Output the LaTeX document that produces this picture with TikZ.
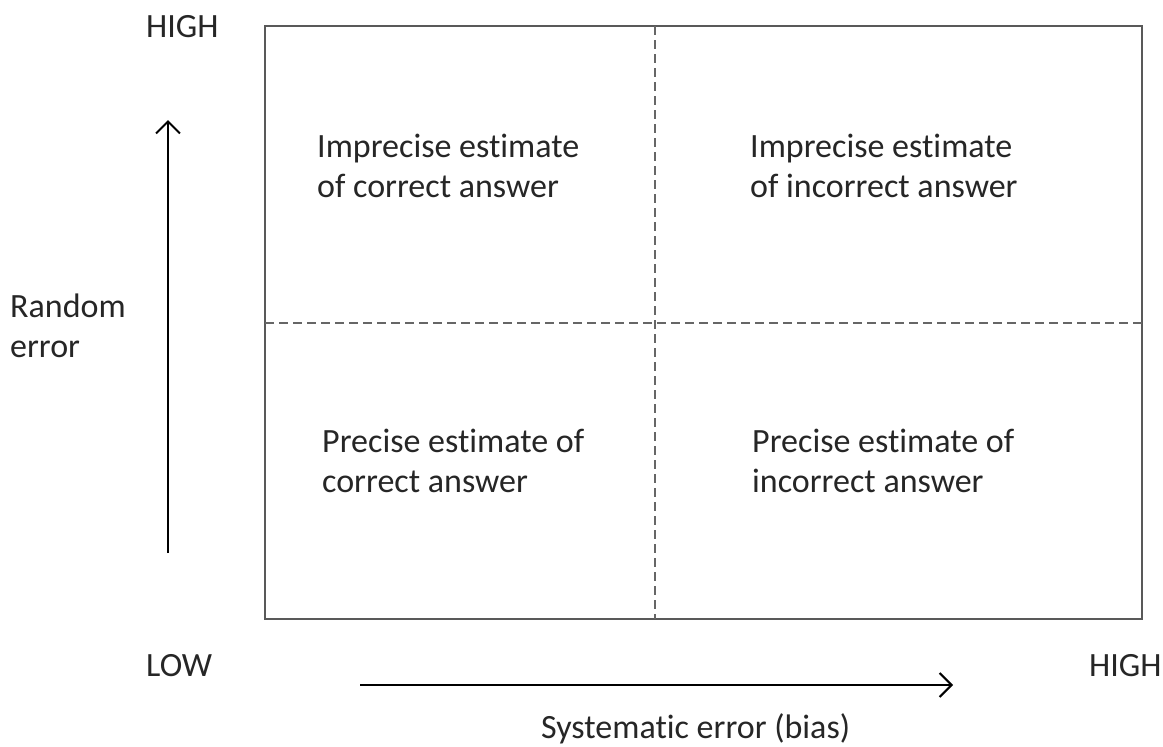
\documentclass[tikz,border=0pt]{standalone}
\usepackage{fontspec}
\setmainfont[Ligatures=NoCommon]{Carlito}
\usetikzlibrary{arrows.meta}
\begin{document}
\begin{tikzpicture}[x=1pt,y=-1pt,
  lbl/.style={inner sep=0pt,anchor=base west,font=\fontsize{34}{40}\selectfont,align=left,text=black!85},
  frame/.style={draw=black!65,line width=1.8pt},
  divider/.style={draw=black!60,line width=1.4pt,dash pattern=on 9pt off 5pt},
  axis/.style={draw=black,line width=2pt,-{Straight Barb[length=12pt,width=24pt,line width=2pt]}}]
\useasboundingbox (0,0) rectangle (1163,747);
\fill[white] (0,0) rectangle (1163,747);

% quadrant frame and dividers
\draw[frame] (265,26) rectangle (1142,619);
\draw[divider] (655,26) -- (655,619);
\draw[divider] (265,323) -- (1142,323);

% axis arrows
\coordinate (ystart) at (168,553);
\coordinate (yend) at (168,120);
\coordinate (xstart) at (360,685);
\coordinate (xend) at (953,685);
\draw[axis] (ystart) -- (yend);
\draw[axis] (xstart) -- (xend);

% axis labels (multi-line nodes are placed by their last baseline)
\node[lbl] (yhigh) at (146,37) {HIGH};
\node[lbl] (low) at (146,676) {LOW};
\node[lbl] (xhigh) at (1089,676) {HIGH};
\node[lbl] (ylabel) at (10,357) {Random\\error};
\node[lbl] (xlabel) at (541,738) {Systematic error (bias)};

% quadrant texts
\node[lbl] (q1) at (317,197) {Imprecise estimate\\of correct answer};
\node[lbl] (q2) at (750,197) {Imprecise estimate\\of incorrect answer};
\node[lbl] (q3) at (322,492) {Precise estimate of\\correct answer};
\node[lbl] (q4) at (752,492) {Precise estimate of\\incorrect answer};
\end{tikzpicture}
\end{document}
